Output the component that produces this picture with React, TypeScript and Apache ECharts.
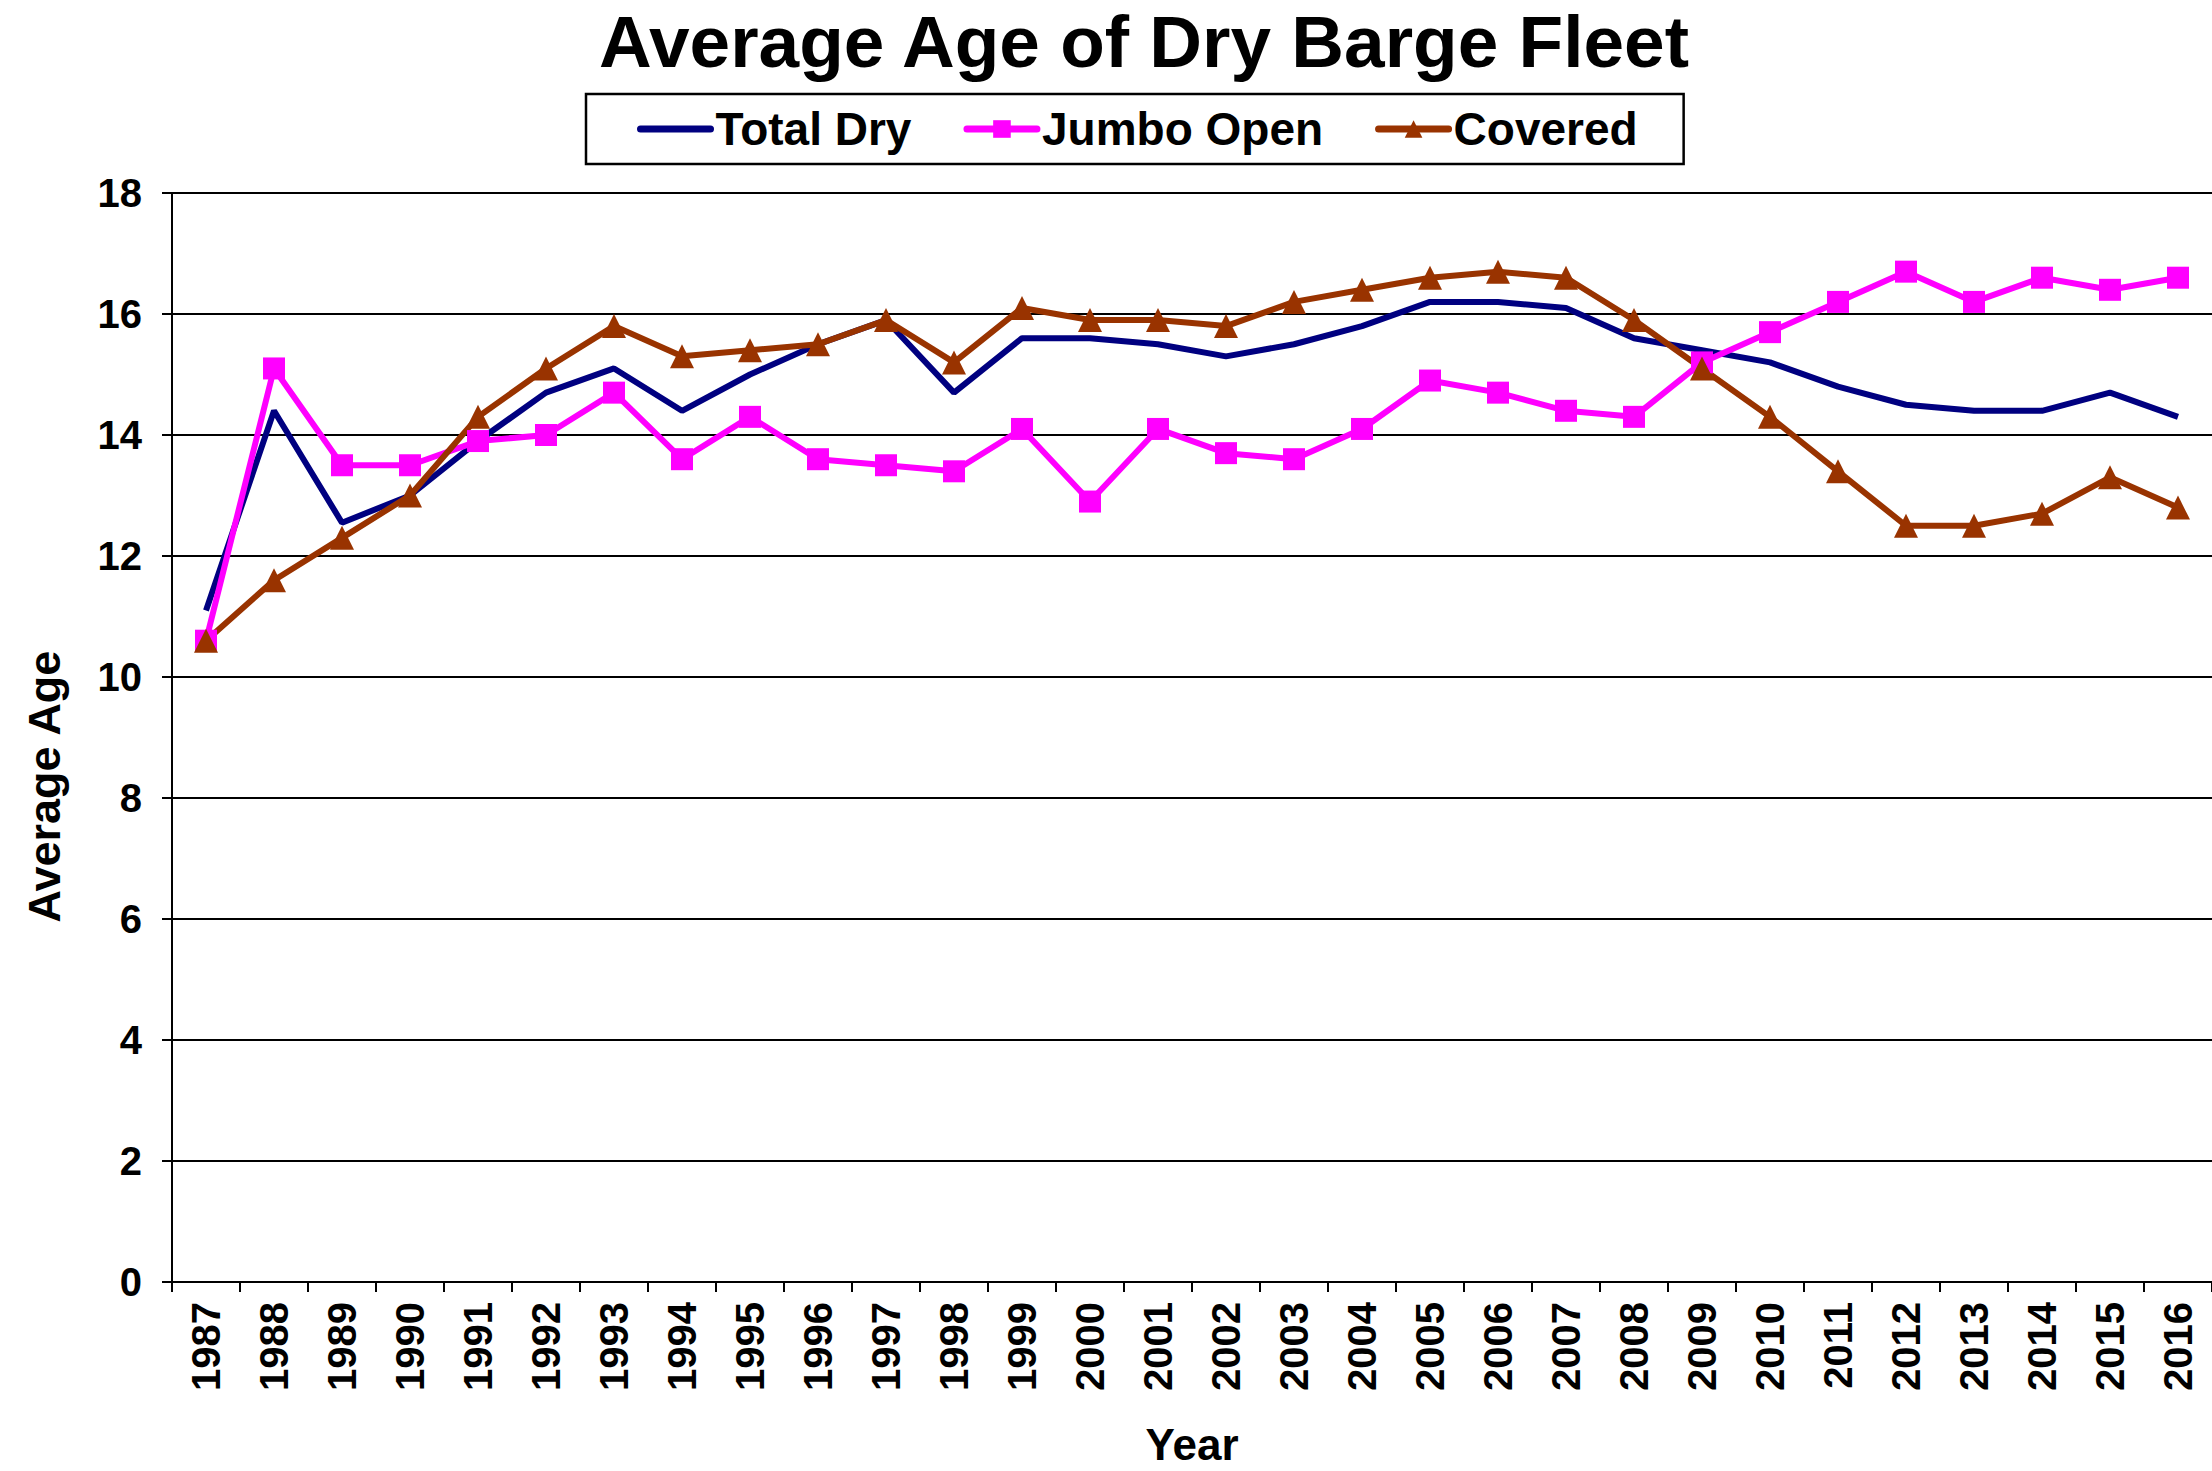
import React, { useEffect, useRef } from "react";
import * as echarts from "echarts";

const years = [
  "1987","1988","1989","1990","1991","1992","1993","1994","1995","1996",
  "1997","1998","1999","2000","2001","2002","2003","2004","2005","2006",
  "2007","2008","2009","2010","2011","2012","2013","2014","2015","2016",
];

const totalDry = [
  11.1, 14.4, 12.55, 13.0, 13.9, 14.7, 15.1, 14.4, 15.0, 15.5,
  15.9, 14.7, 15.6, 15.6, 15.5, 15.3, 15.5, 15.8, 16.2, 16.2,
  16.1, 15.6, 15.4, 15.2, 14.8, 14.5, 14.4, 14.4, 14.7, 14.3,
];

const jumboOpen = [
  10.6, 15.1, 13.5, 13.5, 13.9, 14.0, 14.7, 13.6, 14.3, 13.6,
  13.5, 13.4, 14.1, 12.9, 14.1, 13.7, 13.6, 14.1, 14.9, 14.7,
  14.4, 14.3, 15.2, 15.7, 16.2, 16.7, 16.2, 16.6, 16.4, 16.6,
];

const covered = [
  10.6, 11.6, 12.3, 13.0, 14.3, 15.1, 15.8, 15.3, 15.4, 15.5,
  15.9, 15.2, 16.1, 15.9, 15.9, 15.8, 16.2, 16.4, 16.6, 16.7,
  16.6, 15.9, 15.1, 14.3, 13.4, 12.5, 12.5, 12.7, 13.3, 12.8,
];

const yTicks = { min: 0, max: 18, interval: 2 };

const FONT = "'Liberation Sans', Arial, sans-serif";

export default function App() {
  const ref = useRef<HTMLDivElement>(null);

  useEffect(() => {
    if (!ref.current) return;
    const chart = echarts.init(ref.current, undefined, { renderer: "svg" });
    chart.setOption({
      animation: false,
      backgroundColor: "#ffffff",
      title: {
        text: "Average Age of Dry Barge Fleet",
        left: 594,
        top: 0,
        textStyle: {
          fontFamily: FONT,
          fontWeight: "bold",
          fontSize: 73,
          color: "#000",
        },
      },
      legend: {
        left: 586,
        top: 94,
        orient: "horizontal",
        borderColor: "#000",
        borderWidth: 2.5,
        backgroundColor: "#fff",
        padding: [12, 46, 12, 51],
        itemGap: 52,
        itemWidth: 70,
        itemHeight: 22,
        lineStyle: { width: 7, cap: "round" },
        textStyle: {
          fontFamily: FONT,
          fontWeight: "bold",
          fontSize: 46,
          color: "#000",
        },
        data: [
          { name: "Total Dry", itemStyle: { opacity: 0 } },
          { name: "Jumbo Open" },
          { name: "Covered" },
        ],
      },
      grid: {
        left: 172,
        top: 193,
        width: 2042,
        height: 1091,
        containLabel: false,
      },
      xAxis: {
        type: "category",
        data: years,
        boundaryGap: true,
        name: "Year",
        nameLocation: "middle",
        nameGap: 140,
        nameTextStyle: {
          fontFamily: FONT,
          fontWeight: "bold",
          fontSize: 44,
          color: "#000",
        },
        axisLine: { lineStyle: { color: "#000", width: 2 } },
        axisTick: {
          show: true,
          alignWithLabel: false,
          length: 10,
          lineStyle: { color: "#000", width: 2 },
        },
        axisLabel: {
          rotate: 90,
          interval: 0,
          margin: 20,
          fontFamily: FONT,
          fontWeight: "bold",
          fontSize: 40,
          color: "#000",
        },
        splitLine: { show: false },
      },
      yAxis: {
        type: "value",
        min: yTicks.min,
        max: yTicks.max,
        interval: yTicks.interval,
        name: "Average Age",
        nameLocation: "middle",
        nameGap: 105,
        nameTextStyle: {
          fontFamily: FONT,
          fontWeight: "bold",
          fontSize: 45,
          color: "#000",
          padding: [0, 98, 0, 0],
        },
        axisLine: { show: true, lineStyle: { color: "#000", width: 2 } },
        axisTick: {
          show: true,
          length: 10,
          lineStyle: { color: "#000", width: 2 },
        },
        axisLabel: {
          margin: 30,
          fontFamily: FONT,
          fontWeight: "bold",
          fontSize: 40,
          color: "#000",
        },
        splitLine: { show: true, lineStyle: { color: "#000", width: 2 } },
      },
      series: [
        {
          name: "Total Dry",
          type: "line",
          data: totalDry,
          symbol: "circle",
          showSymbol: false,
          symbolSize: 1,
          lineStyle: { color: "#000080", width: 6 },
          itemStyle: { color: "#000080" },
        },
        {
          name: "Jumbo Open",
          type: "line",
          data: jumboOpen,
          symbol: "rect",
          symbolSize: 22,
          lineStyle: { color: "#FF00FF", width: 6 },
          itemStyle: { color: "#FF00FF" },
        },
        {
          name: "Covered",
          type: "line",
          data: covered,
          symbol: "triangle",
          symbolSize: [24, 24],
          lineStyle: { color: "#993300", width: 6 },
          itemStyle: { color: "#993300" },
        },
      ],
    });
    return () => chart.dispose();
  }, []);

  return (
    <div
      ref={ref}
      style={{ position: "absolute", left: 0, top: 0, width: 2212, height: 1471 }}
    />
  );
}
